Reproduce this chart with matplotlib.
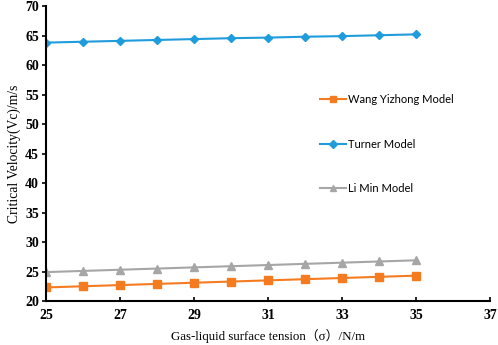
import matplotlib
matplotlib.use("agg")
import matplotlib.pyplot as plt

# surface tension values (x) and critical velocities
sigma = [25, 26, 27, 28, 29, 30, 31, 32, 33, 34, 35]
wang = [22.3, 22.5, 22.7, 22.9, 23.1, 23.3, 23.5, 23.7, 23.9, 24.1, 24.3]
turner = [63.8, 63.95, 64.1, 64.25, 64.4, 64.55, 64.65, 64.8, 64.9, 65.05, 65.2]
limin = [24.9, 25.1, 25.3, 25.5, 25.7, 25.9, 26.1, 26.3, 26.5, 26.7, 26.9]

x_ticks = [25, 27, 29, 31, 33, 35, 37]
y_ticks = [20, 25, 30, 35, 40, 45, 50, 55, 60, 65, 70]

fig = plt.figure(figsize=(4.98, 3.45), dpi=100)
ax = fig.add_axes([0.0924, 0.1275, 0.892, 0.855])

ax.plot(sigma, wang, color='#F47B20', marker='s', markersize=6, linewidth=1.5,
        label='Wang Yizhong Model')
ax.plot(sigma, turner, color='#1E9CDC', marker='D', markersize=4.5, linewidth=1.5,
        label='Turner Model')
ax.plot(sigma, limin, color='#A6A6A6', marker='^', markersize=6, linewidth=1.5,
        label='Li Min Model')

tick_font = {'family': 'Liberation Serif', 'weight': 'bold', 'size': 10}
ax.set_xlim(25, 37)
ax.set_ylim(20, 70)
ax.set_xticks(x_ticks)
ax.set_xticklabels([str(t) for t in x_ticks], fontdict=tick_font)
ax.set_yticks(y_ticks)
ax.set_yticklabels([str(t) for t in y_ticks], fontdict=tick_font)
ax.spines['top'].set_visible(False)
ax.spines['right'].set_visible(False)
ax.spines['left'].set_linewidth(1.5)
ax.spines['bottom'].set_linewidth(1.5)
ax.tick_params(axis='x', direction='in', length=3, width=1.2, pad=6)
ax.tick_params(axis='y', direction='out', length=3, width=1.2, pad=2)

ax.set_xlabel('Gas-liquid surface tension（σ）/N/m',
              family=['Liberation Serif', 'Noto Sans CJK SC'], fontsize=9.3, labelpad=5)
ax.set_ylabel('Critical Velocity(Vc)/m/s', family='Liberation Serif', fontsize=9.8, labelpad=3)

leg = ax.legend(loc='upper left', bbox_to_anchor=(0.595, 0.735), frameon=False,
                prop={'family': 'Lato', 'size': 8}, labelspacing=3.0,
                handlelength=2.3, handletextpad=0.15, markerscale=0.8)

fig.savefig('out.png', dpi=100)
